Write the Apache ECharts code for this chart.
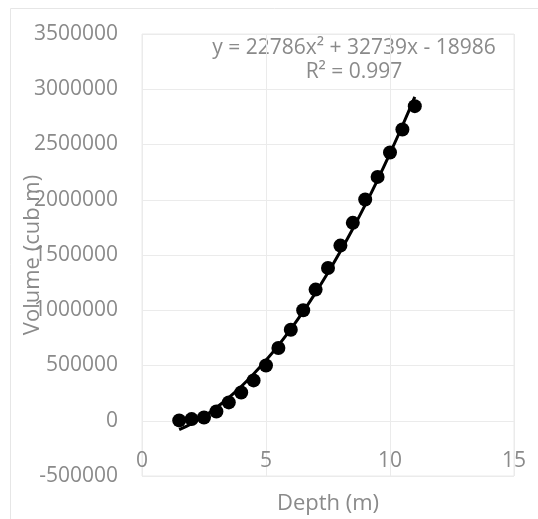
<!DOCTYPE html>
<html>
<head>
<meta charset="utf-8">
<script src="https://cdn.jsdelivr.net/npm/echarts@6/dist/echarts.min.js"></script>
<style>
  html, body { margin: 0; padding: 0; background: #fff; }
  #chart { width: 538px; height: 519px; }
</style>
</head>
<body>
<div id="chart"></div>
<script>
// depth (m) and volume (cub m)
const depth = [1.5, 2, 2.5, 3, 3.5, 4, 4.5, 5, 5.5, 6, 6.5, 7, 7.5, 8, 8.5, 9, 9.5, 10, 10.5, 11]
const volume = [3000, 15000, 30000, 84000, 166000, 256000, 365000, 500000, 658000, 824000,
  1000000, 1187000, 1383000, 1585000, 1791000, 2002000, 2207000, 2428000, 2636000, 2847000]
const trendText = ['y = 22786x\u00b2 + 32739x - 18986', 'R\u00b2 = 0.997']

const textColor = '#8a8a8a'
const gridColor = '#ebebeb'
const font = '"Open Sans", sans-serif'

// order-2 least squares fit, like the spreadsheet trendline
function polyFit2(xs, ys) {
  let s = [0, 0, 0, 0, 0]
  let t = [0, 0, 0]
  xs.forEach((x, i) => {
    for (let k = 0; k < 5; k++) s[k] += Math.pow(x, k)
    for (let k = 0; k < 3; k++) t[k] += ys[i] * Math.pow(x, k)
  })
  const m = [
    [s[0], s[1], s[2], t[0]],
    [s[1], s[2], s[3], t[1]],
    [s[2], s[3], s[4], t[2]]
  ]
  for (let c = 0; c < 3; c++) {
    for (let r = c + 1; r < 3; r++) {
      const f = m[r][c] / m[c][c]
      for (let k = c; k < 4; k++) m[r][k] -= f * m[c][k]
    }
  }
  const b = [0, 0, 0]
  for (let r = 2; r >= 0; r--) {
    let v = m[r][3]
    for (let k = r + 1; k < 3; k++) v -= m[r][k] * b[k]
    b[r] = v / m[r][r]
  }
  return b
}

const coef = polyFit2(depth, volume)
const trend = depth.map(x => [x, coef[0] + coef[1] * x + coef[2] * x * x])

const chart = echarts.init(document.getElementById('chart'))
chart.setOption({
  animation: false,
  textStyle: { fontFamily: font },
  graphic: [
    {
      type: 'rect',
      shape: { x: 10.5, y: 8.5, width: 560, height: 560 },
      style: { fill: null, stroke: '#e6e6e6', lineWidth: 1 },
      silent: true
    },
    {
      type: 'text',
      x: 354,
      y: 48,
      style: {
        text: trendText[0],
        fill: textColor,
        font: '21px ' + font,
        align: 'center',
        verticalAlign: 'middle'
      },
      silent: true
    },
    {
      type: 'text',
      x: 354,
      y: 72,
      style: {
        text: trendText[1],
        fill: textColor,
        font: '21px ' + font,
        align: 'center',
        verticalAlign: 'middle'
      },
      silent: true
    }
  ],
  grid: {
    left: 142,
    right: 24,
    top: 34,
    bottom: 43,
    outerBoundsMode: 'none',
    show: true,
    borderColor: gridColor,
    borderWidth: 1
  },
  xAxis: {
    type: 'value',
    min: 0,
    max: 15,
    interval: 5,
    name: 'Depth (m)',
    nameLocation: 'middle',
    nameGap: 17,
    nameMoveOverlap: false,
    nameTextStyle: { color: textColor, fontSize: 22, fontFamily: font },
    axisLine: { show: false },
    axisTick: { show: false },
    axisLabel: { inside: true, margin: 4, color: textColor, fontSize: 21, fontFamily: font },
    splitLine: { lineStyle: { color: gridColor, width: 1 } }
  },
  yAxis: {
    type: 'value',
    min: -500000,
    max: 3500000,
    interval: 500000,
    name: 'Volume (cub m)',
    nameLocation: 'middle',
    nameGap: 98,
    nameMoveOverlap: false,
    nameTextStyle: { color: textColor, fontSize: 22, fontFamily: font },
    axisLine: { show: false },
    axisTick: { show: false },
    axisLabel: {
      margin: 24,
      color: textColor,
      fontSize: 21,
      fontFamily: font,
      formatter: v => String(v)
    },
    splitLine: { lineStyle: { color: gridColor, width: 1 } }
  },
  series: [
    {
      type: 'line',
      data: trend,
      smooth: true,
      showSymbol: false,
      lineStyle: { color: '#000', width: 3 },
      z: 2
    },
    {
      type: 'scatter',
      data: depth.map((x, i) => [x, volume[i]]),
      symbol: 'circle',
      symbolSize: 14,
      itemStyle: { color: '#000', opacity: 1 },
      z: 3
    }
  ]
})
</script>
</body>
</html>
